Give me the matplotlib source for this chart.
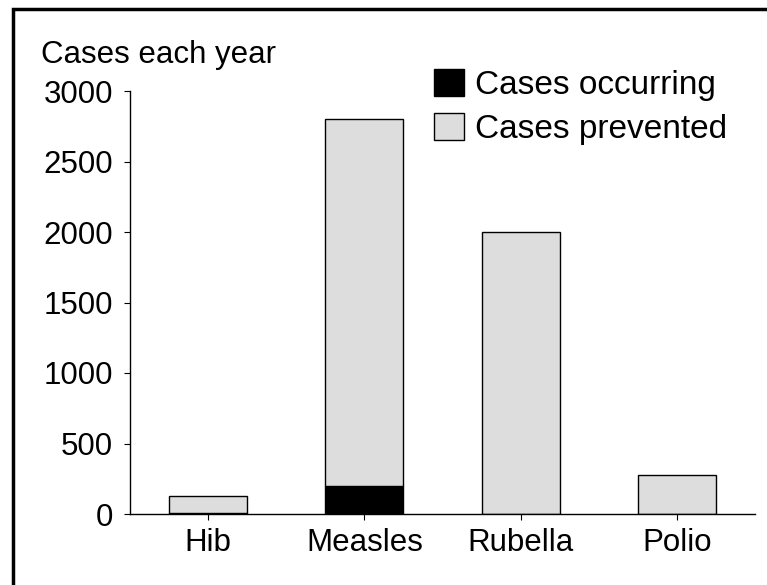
import matplotlib
matplotlib.use("Agg")
import matplotlib.pyplot as plt
from matplotlib.patches import Rectangle, Patch
import numpy as np

diseases = ["Hib", "Measles", "Rubella", "Polio"]
occurring = [8, 200, 0, 0]
prevented = [117, 2600, 2000, 280]
yticks = [0, 500, 1000, 1500, 2000, 2500, 3000]

plt.rcParams['font.family'] = ['Liberation Sans', 'DejaVu Sans']

fig = plt.figure(figsize=(7.67, 5.85), dpi=100)
ax = fig.add_axes([130/767, 1 - 514/585, 625/767, 423/585])

x = np.arange(len(diseases))
ax.bar(x, occurring, width=0.5, color='black', edgecolor='black', linewidth=1)
ax.bar(x, prevented, width=0.5, bottom=occurring, color='#dddddd',
       edgecolor='black', linewidth=1)

ax.set_xlim(-0.5, 3.5)
ax.set_ylim(0, 3000)
ax.set_xticks(x)
ax.set_xticklabels(diseases)
ax.set_yticks(yticks)
ax.tick_params(labelsize=22.5, length=4, width=0.8, pad=8)
ax.tick_params(axis='x', pad=6)

for side in ['top', 'right']:
    ax.spines[side].set_visible(False)
for side in ['bottom', 'left']:
    ax.spines[side].set_linewidth(1)

fig.text(41/767, 1 - 55/585, "Cases each year", fontsize=22.5, va='center', ha='left')

handles = [Patch(facecolor='black', edgecolor='black'),
           Patch(facecolor='#dddddd', edgecolor='black')]
fig.legend(handles, ["Cases occurring", "Cases prevented"], loc='upper left',
           bbox_to_anchor=(434/767, 1 - 69/585), frameon=False, fontsize=24,
           handlelength=0.9, handleheight=0.85, handletextpad=0.33,
           labelspacing=0.38, borderpad=0, borderaxespad=0)

# figure border (only top and left visible in the reference crop)
fig.add_artist(Rectangle((13/767, -0.1), 1.2, 1 - 9/585 + 0.1,
                         transform=fig.transFigure, fill=False,
                         edgecolor='black', linewidth=2.5, clip_on=False))

plt.savefig("out.png", dpi=100)
